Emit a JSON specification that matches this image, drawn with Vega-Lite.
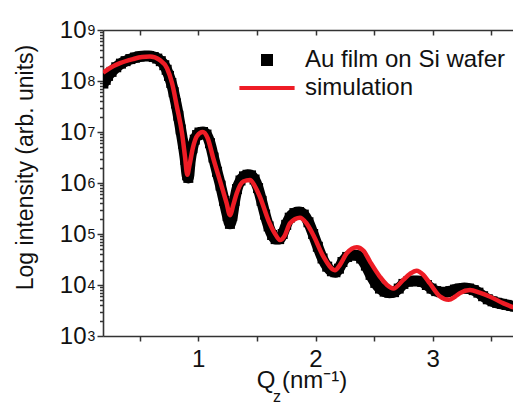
{
  "$schema": "https://vega.github.io/schema/vega-lite/v6.json",
  "width": 410,
  "height": 306,
  "autosize": {"type": "none"},
  "padding": {"left": 103, "top": 30, "right": 0, "bottom": 71},
  "background": "white",
  "config": {
    "view": {"stroke": null},
    "font": "Liberation Sans",
    "axis": {
      "labelFont": "Liberation Sans",
      "titleFont": "Liberation Sans",
      "grid": false,
      "domainColor": "#333333",
      "tickColor": "#333333",
      "labelColor": "#111111",
      "titleColor": "#111111",
      "titleFontWeight": "normal",
      "domainWidth": 1.6,
      "tickWidth": 1.5,
      "labelFlush": false
    }
  },
  "datasets": {
    "measured": [
      {"q":0.19,"intensity":8.91e7,"series":"Au film on Si wafer"},
      {"q":0.21,"intensity":1.05e8,"series":"Au film on Si wafer"},
      {"q":0.23,"intensity":1.26e8,"series":"Au film on Si wafer"},
      {"q":0.26,"intensity":1.51e8,"series":"Au film on Si wafer"},
      {"q":0.30,"intensity":1.86e8,"series":"Au film on Si wafer"},
      {"q":0.34,"intensity":2.19e8,"series":"Au film on Si wafer"},
      {"q":0.38,"intensity":2.45e8,"series":"Au film on Si wafer"},
      {"q":0.42,"intensity":2.69e8,"series":"Au film on Si wafer"},
      {"q":0.46,"intensity":2.88e8,"series":"Au film on Si wafer"},
      {"q":0.50,"intensity":3.02e8,"series":"Au film on Si wafer"},
      {"q":0.54,"intensity":3.09e8,"series":"Au film on Si wafer"},
      {"q":0.58,"intensity":3.09e8,"series":"Au film on Si wafer"},
      {"q":0.62,"intensity":2.95e8,"series":"Au film on Si wafer"},
      {"q":0.65,"intensity":2.75e8,"series":"Au film on Si wafer"},
      {"q":0.68,"intensity":2.45e8,"series":"Au film on Si wafer"},
      {"q":0.71,"intensity":2.04e8,"series":"Au film on Si wafer"},
      {"q":0.73,"intensity":1.66e8,"series":"Au film on Si wafer"},
      {"q":0.75,"intensity":1.26e8,"series":"Au film on Si wafer"},
      {"q":0.77,"intensity":9.12e7,"series":"Au film on Si wafer"},
      {"q":0.79,"intensity":6.03e7,"series":"Au film on Si wafer"},
      {"q":0.81,"intensity":3.63e7,"series":"Au film on Si wafer"},
      {"q":0.83,"intensity":2.09e7,"series":"Au film on Si wafer"},
      {"q":0.85,"intensity":1.12e7,"series":"Au film on Si wafer"},
      {"q":0.87,"intensity":5.89e6,"series":"Au film on Si wafer"},
      {"q":0.89,"intensity":2.82e6,"series":"Au film on Si wafer"},
      {"q":0.905,"intensity":1.41e6,"series":"Au film on Si wafer"},
      {"q":0.915,"intensity":1.26e6,"series":"Au film on Si wafer"},
      {"q":0.93,"intensity":2.63e6,"series":"Au film on Si wafer"},
      {"q":0.95,"intensity":4.79e6,"series":"Au film on Si wafer"},
      {"q":0.97,"intensity":7.08e6,"series":"Au film on Si wafer"},
      {"q":0.99,"intensity":8.71e6,"series":"Au film on Si wafer"},
      {"q":1.01,"intensity":9.77e6,"series":"Au film on Si wafer"},
      {"q":1.04,"intensity":1.0e7,"series":"Au film on Si wafer"},
      {"q":1.07,"intensity":8.91e6,"series":"Au film on Si wafer"},
      {"q":1.10,"intensity":6.03e6,"series":"Au film on Si wafer"},
      {"q":1.13,"intensity":3.16e6,"series":"Au film on Si wafer"},
      {"q":1.16,"intensity":1.66e6,"series":"Au film on Si wafer"},
      {"q":1.19,"intensity":8.91e5,"series":"Au film on Si wafer"},
      {"q":1.22,"intensity":4.47e5,"series":"Au film on Si wafer"},
      {"q":1.25,"intensity":2.24e5,"series":"Au film on Si wafer"},
      {"q":1.27,"intensity":1.58e5,"series":"Au film on Si wafer"},
      {"q":1.29,"intensity":2.24e5,"series":"Au film on Si wafer"},
      {"q":1.31,"intensity":4.47e5,"series":"Au film on Si wafer"},
      {"q":1.33,"intensity":7.59e5,"series":"Au film on Si wafer"},
      {"q":1.36,"intensity":1.12e6,"series":"Au film on Si wafer"},
      {"q":1.39,"intensity":1.35e6,"series":"Au film on Si wafer"},
      {"q":1.42,"intensity":1.45e6,"series":"Au film on Si wafer"},
      {"q":1.45,"intensity":1.41e6,"series":"Au film on Si wafer"},
      {"q":1.48,"intensity":1.17e6,"series":"Au film on Si wafer"},
      {"q":1.51,"intensity":7.94e5,"series":"Au film on Si wafer"},
      {"q":1.54,"intensity":4.47e5,"series":"Au film on Si wafer"},
      {"q":1.57,"intensity":2.40e5,"series":"Au film on Si wafer"},
      {"q":1.60,"intensity":1.41e5,"series":"Au film on Si wafer"},
      {"q":1.63,"intensity":9.55e4,"series":"Au film on Si wafer"},
      {"q":1.66,"intensity":7.94e4,"series":"Au film on Si wafer"},
      {"q":1.69,"intensity":7.94e4,"series":"Au film on Si wafer"},
      {"q":1.72,"intensity":1.0e5,"series":"Au film on Si wafer"},
      {"q":1.75,"intensity":1.51e5,"series":"Au film on Si wafer"},
      {"q":1.78,"intensity":2.09e5,"series":"Au film on Si wafer"},
      {"q":1.82,"intensity":2.57e5,"series":"Au film on Si wafer"},
      {"q":1.86,"intensity":2.69e5,"series":"Au film on Si wafer"},
      {"q":1.90,"intensity":2.40e5,"series":"Au film on Si wafer"},
      {"q":1.94,"intensity":1.70e5,"series":"Au film on Si wafer"},
      {"q":1.98,"intensity":1.0e5,"series":"Au film on Si wafer"},
      {"q":2.02,"intensity":5.62e4,"series":"Au film on Si wafer"},
      {"q":2.06,"intensity":3.31e4,"series":"Au film on Si wafer"},
      {"q":2.10,"intensity":2.29e4,"series":"Au film on Si wafer"},
      {"q":2.14,"intensity":1.86e4,"series":"Au film on Si wafer"},
      {"q":2.17,"intensity":1.78e4,"series":"Au film on Si wafer"},
      {"q":2.20,"intensity":2.09e4,"series":"Au film on Si wafer"},
      {"q":2.23,"intensity":2.82e4,"series":"Au film on Si wafer"},
      {"q":2.27,"intensity":3.55e4,"series":"Au film on Si wafer"},
      {"q":2.31,"intensity":3.89e4,"series":"Au film on Si wafer"},
      {"q":2.35,"intensity":3.80e4,"series":"Au film on Si wafer"},
      {"q":2.39,"intensity":3.31e4,"series":"Au film on Si wafer"},
      {"q":2.43,"intensity":2.40e4,"series":"Au film on Si wafer"},
      {"q":2.47,"intensity":1.58e4,"series":"Au film on Si wafer"},
      {"q":2.51,"intensity":1.10e4,"series":"Au film on Si wafer"},
      {"q":2.55,"intensity":8.51e3,"series":"Au film on Si wafer"},
      {"q":2.59,"intensity":7.41e3,"series":"Au film on Si wafer"},
      {"q":2.63,"intensity":7.08e3,"series":"Au film on Si wafer"},
      {"q":2.67,"intensity":7.24e3,"series":"Au film on Si wafer"},
      {"q":2.71,"intensity":8.51e3,"series":"Au film on Si wafer"},
      {"q":2.75,"intensity":1.05e4,"series":"Au film on Si wafer"},
      {"q":2.79,"intensity":1.17e4,"series":"Au film on Si wafer"},
      {"q":2.83,"intensity":1.20e4,"series":"Au film on Si wafer"},
      {"q":2.87,"intensity":1.20e4,"series":"Au film on Si wafer"},
      {"q":2.91,"intensity":1.15e4,"series":"Au film on Si wafer"},
      {"q":2.95,"intensity":1.0e4,"series":"Au film on Si wafer"},
      {"q":2.99,"intensity":8.51e3,"series":"Au film on Si wafer"},
      {"q":3.03,"intensity":7.59e3,"series":"Au film on Si wafer"},
      {"q":3.07,"intensity":7.24e3,"series":"Au film on Si wafer"},
      {"q":3.11,"intensity":7.24e3,"series":"Au film on Si wafer"},
      {"q":3.15,"intensity":7.59e3,"series":"Au film on Si wafer"},
      {"q":3.19,"intensity":8.13e3,"series":"Au film on Si wafer"},
      {"q":3.23,"intensity":8.51e3,"series":"Au film on Si wafer"},
      {"q":3.27,"intensity":8.71e3,"series":"Au film on Si wafer"},
      {"q":3.31,"intensity":8.51e3,"series":"Au film on Si wafer"},
      {"q":3.35,"intensity":7.94e3,"series":"Au film on Si wafer"},
      {"q":3.39,"intensity":7.08e3,"series":"Au film on Si wafer"},
      {"q":3.43,"intensity":6.03e3,"series":"Au film on Si wafer"},
      {"q":3.47,"intensity":5.25e3,"series":"Au film on Si wafer"},
      {"q":3.51,"intensity":4.79e3,"series":"Au film on Si wafer"},
      {"q":3.55,"intensity":4.47e3,"series":"Au film on Si wafer"},
      {"q":3.59,"intensity":4.27e3,"series":"Au film on Si wafer"},
      {"q":3.63,"intensity":4.07e3,"series":"Au film on Si wafer"},
      {"q":3.67,"intensity":3.89e3,"series":"Au film on Si wafer"},
      {"q":3.70,"intensity":3.80e3,"series":"Au film on Si wafer"}
    ],
    "simulation": [
      {"q":0.187,"intensity":1.45e8},
      {"q":0.25,"intensity":1.82e8},
      {"q":0.332,"intensity":2.24e8},
      {"q":0.443,"intensity":2.69e8},
      {"q":0.52,"intensity":2.95e8},
      {"q":0.588,"intensity":3.02e8},
      {"q":0.673,"intensity":2.57e8},
      {"q":0.733,"intensity":1.78e8},
      {"q":0.776,"intensity":9.12e7},
      {"q":0.818,"intensity":3.09e7},
      {"q":0.861,"intensity":9.55e6},
      {"q":0.887,"intensity":3.24e6},
      {"q":0.906,"intensity":1.45e6},
      {"q":0.925,"intensity":2.24e6},
      {"q":0.955,"intensity":5.01e6},
      {"q":0.989,"intensity":8.32e6},
      {"q":1.038,"intensity":1.0e7},
      {"q":1.08,"intensity":7.59e6},
      {"q":1.126,"intensity":3.16e6},
      {"q":1.2,"intensity":8.51e5},
      {"q":1.242,"intensity":3.98e5},
      {"q":1.27,"intensity":2.34e5},
      {"q":1.30,"intensity":3.80e5},
      {"q":1.328,"intensity":6.31e5},
      {"q":1.384,"intensity":1.07e6},
      {"q":1.441,"intensity":1.15e6},
      {"q":1.48,"intensity":8.91e5},
      {"q":1.526,"intensity":5.37e5},
      {"q":1.598,"intensity":1.86e5},
      {"q":1.654,"intensity":1.02e5},
      {"q":1.697,"intensity":7.59e4},
      {"q":1.74,"intensity":9.55e4},
      {"q":1.782,"intensity":1.62e5},
      {"q":1.868,"intensity":2.09e5},
      {"q":1.92,"intensity":1.66e5},
      {"q":1.981,"intensity":9.55e4},
      {"q":2.067,"intensity":3.63e4},
      {"q":2.166,"intensity":1.95e4},
      {"q":2.21,"intensity":2.51e4},
      {"q":2.266,"intensity":4.17e4},
      {"q":2.352,"intensity":5.50e4},
      {"q":2.41,"intensity":4.68e4},
      {"q":2.465,"intensity":2.88e4},
      {"q":2.55,"intensity":1.45e4},
      {"q":2.61,"intensity":1.0e4},
      {"q":2.664,"intensity":8.51e3},
      {"q":2.749,"intensity":1.26e4},
      {"q":2.806,"intensity":1.66e4},
      {"q":2.863,"intensity":1.91e4},
      {"q":2.92,"intensity":1.58e4},
      {"q":2.976,"intensity":1.07e4},
      {"q":3.06,"intensity":6.03e3},
      {"q":3.136,"intensity":5.13e3},
      {"q":3.19,"intensity":5.89e3},
      {"q":3.232,"intensity":6.92e3},
      {"q":3.318,"intensity":7.94e3},
      {"q":3.40,"intensity":7.08e3},
      {"q":3.49,"intensity":5.89e3},
      {"q":3.604,"intensity":4.37e3},
      {"q":3.69,"intensity":3.63e3}
    ]
  },
  "resolve": {"axis": {"x": "independent", "y": "independent"}},
  "layer": [
    {
      "data": {"name": "measured"},
      "mark": {"type": "line", "color": "#000000", "strokeWidth": 11, "clip": true, "interpolate": "monotone"},
      "encoding": {
        "x": {
          "field": "q", "type": "quantitative",
          "scale": {"domain": [0.187, 3.685], "nice": false, "zero": false},
          "axis": {
            "orient": "bottom",
            "values": [0.5, 1, 1.5, 2, 2.5, 3, 3.5],
            "tickSize": 5,
            "labelExpr": "datum.value % 1 === 0 ? format(datum.value, 'd') : ''",
            "labelFontSize": 24,
            "labelPadding": 6,
            "title": "Q  (nm⁻¹)",
            "titleFontSize": 24,
            "titleX": 198.5,
            "titleY": 51,
            "titleBaseline": "alphabetic"
          }
        },
        "y": {
          "field": "intensity", "type": "quantitative",
          "scale": {"type": "log", "domain": [1000, 1000000000], "nice": false},
          "axis": {
            "orient": "left",
            "values": [1000, 10000, 100000, 1000000, 10000000, 100000000, 1000000000],
            "tickSize": 6,
            "labelExpr": "'10'",
            "labelFontSize": 24,
            "labelPadding": 11,
            "labelBaseline": "middle",
            "title": "Log intensity (arb. units)",
            "titleFontSize": 23,
            "titleAngle": -90,
            "titleBaseline": "bottom",
            "titleX": -66,
            "titleY": 137
          }
        }
      }
    },
    {
      "data": {"name": "measured"},
      "mark": {"type": "point", "filled": true, "size": 100, "opacity": 1, "clip": true},
      "encoding": {
        "x": {
          "field": "q", "type": "quantitative",
          "axis": {
            "orient": "top",
            "values": [0.5, 1, 1.5, 2, 2.5, 3, 3.5],
            "tickSize": -5,
            "labels": false,
            "title": "z",
            "titleFontSize": 16,
            "titleX": 173.5,
            "titleY": 371,
            "titleBaseline": "alphabetic"
          }
        },
        "y": {
          "field": "intensity", "type": "quantitative",
          "axis": {
            "orient": "left",
            "values": [2000,3000,4000,5000,6000,7000,8000,9000,20000,30000,40000,50000,60000,70000,80000,90000,200000,300000,400000,500000,600000,700000,800000,900000,2000000,3000000,4000000,5000000,6000000,7000000,8000000,9000000,20000000,30000000,40000000,50000000,60000000,70000000,80000000,90000000,200000000,300000000,400000000,500000000,600000000,700000000,800000000,900000000],
            "tickSize": 3.5,
            "labels": false,
            "domain": false,
            "title": null
          }
        },
        "color": {
          "field": "series", "type": "nominal",
          "scale": {"domain": ["Au film on Si wafer", "simulation"], "range": ["#000000", "#ee1c25"]},
          "legend": {
            "title": null, "orient": "none", "legendX": 152, "legendY": 18,
            "symbolSize": 144, "symbolStrokeWidth": 0, "labelFontSize": 24, "labelFont": "Liberation Sans", "labelColor": "#111111",
            "labelOffset": 26, "labelLimit": 400, "rowPadding": 4, "padding": 0
          }
        },
        "shape": {
          "field": "series", "type": "nominal",
          "scale": {"domain": ["Au film on Si wafer", "simulation"], "range": ["square", "M-4.6,-0.35L4.6,-0.35L4.6,0.35L-4.6,0.35Z"]},
          "legend": {
            "title": null, "orient": "none", "legendX": 152, "legendY": 18,
            "symbolSize": 144, "symbolStrokeWidth": 0, "labelFontSize": 24, "labelFont": "Liberation Sans", "labelColor": "#111111",
            "labelOffset": 26, "labelLimit": 400, "rowPadding": 4, "padding": 0
          }
        }
      }
    },
    {
      "data": {"name": "simulation"},
      "mark": {"type": "line", "color": "#ee1c25", "strokeWidth": 4.5, "clip": true, "interpolate": "monotone"},
      "encoding": {
        "x": {"field": "q", "type": "quantitative", "axis": null},
        "y": {
          "field": "intensity", "type": "quantitative",
          "axis": {
            "orient": "left",
            "values": [1000, 10000, 100000, 1000000, 10000000, 100000000, 1000000000],
            "ticks": false,
            "tickSize": 0,
            "domain": false,
            "labelExpr": "format(log(datum.value) / LN10, '.0f')",
            "labelFontSize": 14,
            "labelAlign": "left",
            "labelPadding": 16,
            "labelDy": -6,
            "labelBaseline": "middle",
            "title": null
          }
        }
      }
    }
  ]
}
